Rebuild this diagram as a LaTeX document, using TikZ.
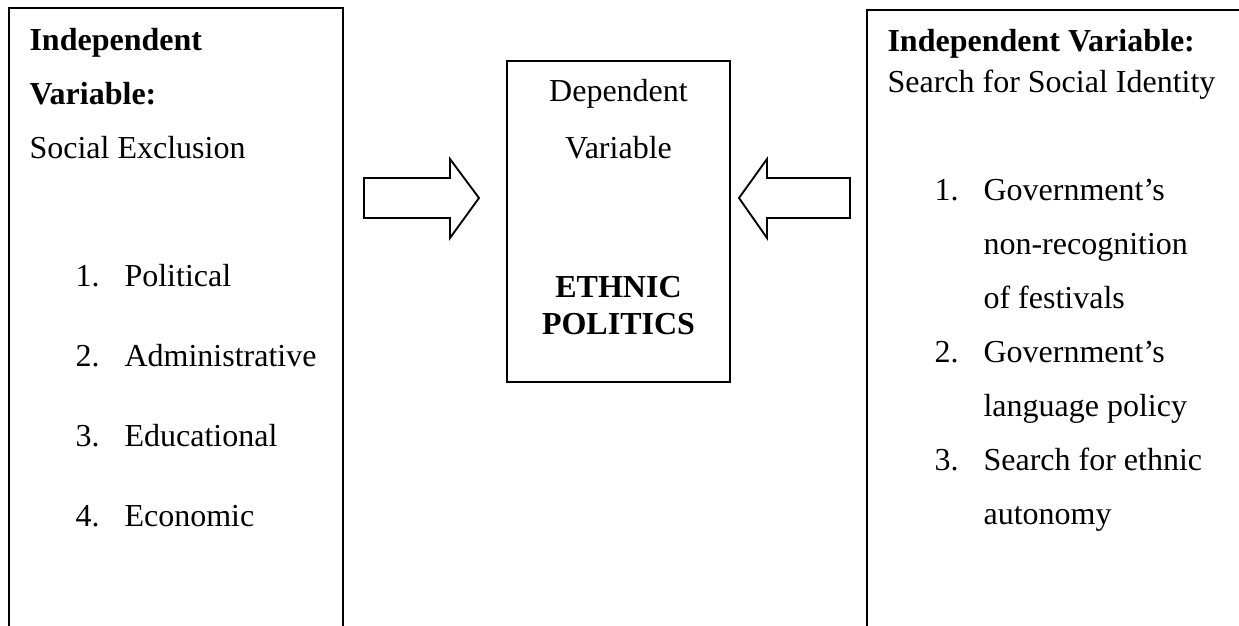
\documentclass[tikz,border=0pt]{standalone}
\usepackage{fontspec}
\setmainfont{Liberation Serif}
\begin{document}
\begin{tikzpicture}[x=0.375pt,y=-0.375pt,
  txt/.style={inner sep=0pt, anchor=base west, font=\fontsize{12}{14}\selectfont},
  btxt/.style={txt, font=\fontsize{12}{14}\selectfont\bfseries},
  ctxt/.style={txt, anchor=base},
  bctxt/.style={btxt, anchor=base},
  frame/.style={draw=black, line width=0.7pt},
  blockarrow/.style={draw=black, line width=0.7pt, fill=white, line join=miter}]
\useasboundingbox (0,0) rectangle (1239,625);
\clip (0,0) rectangle (1239,625);
% frames
\draw[frame] (9,660) -- (9,8) -- (343,8) -- (343,660);
\draw[frame] (507,61) rectangle (730,382);
\draw[frame] (867,660) -- (867,10) -- (1260,10);
% left box texts
\node[btxt] (l1) at (29,50) {Independent};
\node[btxt] (l2) at (29,104) {Variable:};
\node[txt] (l3) at (29,158) {Social Exclusion};
\node[txt] (ln1) at (75,286) {1.};
\node[txt] (li1) at (124,286) {Political};
\node[txt] (ln2) at (75,366) {2.};
\node[txt] (li2) at (124,366) {Administrative};
\node[txt] (ln3) at (75,446) {3.};
\node[txt] (li3) at (124,446) {Educational};
\node[txt] (ln4) at (75,526) {4.};
\node[txt] (li4) at (124,526) {Economic};
% middle box texts
\node[ctxt] (d1) at (618.5,101) {Dependent};
\node[ctxt] (d2) at (618.5,158) {Variable};
\node[bctxt] (d3) at (618.5,297) {ETHNIC};
\node[bctxt] (d4) at (618.5,334) {POLITICS};
% right box texts
\node[btxt] (r1) at (887,51) {Independent Variable:};
\node[txt] (r2) at (887,92) {Search for Social Identity};
\node[txt] (rn1) at (934,200) {1.};
\node[txt] (ri1) at (983,200) {Government’s};
\node[txt] (ri1b) at (983,254) {non-recognition};
\node[txt] (ri1c) at (983,308) {of festivals};
\node[txt] (rn2) at (934,362) {2.};
\node[txt] (ri2) at (983,362) {Government’s};
\node[txt] (ri2b) at (983,416) {language policy};
\node[txt] (rn3) at (934,470) {3.};
\node[txt] (ri3) at (983,470) {Search for ethnic};
\node[txt] (ri3b) at (983,524) {autonomy};
% block arrows
\draw[blockarrow] (364,178) -- (450,178) -- (450,159) -- (479,198) -- (450,238) -- (450,218) -- (364,218) -- cycle;
\draw[blockarrow] (850,178) -- (767,178) -- (767,159) -- (739,198) -- (767,238) -- (767,218) -- (850,218) -- cycle;
\end{tikzpicture}
\end{document}
